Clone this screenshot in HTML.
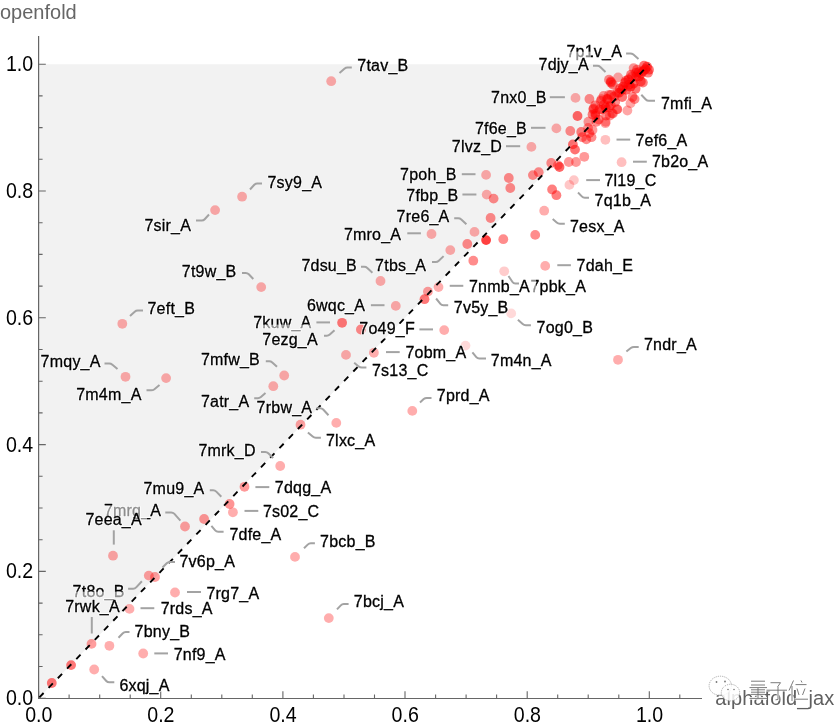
<!DOCTYPE html><html><head><meta charset="utf-8"><style>html,body{margin:0;padding:0;background:#fff;width:834px;height:726px;overflow:hidden}svg{display:block;will-change:transform}text{font-family:"Liberation Sans",sans-serif}</style></head><body>
<svg width="834" height="726" viewBox="0 0 834 726">
<path d="M38.6 698.2L38.6 64.2L649.3 64.2Z" fill="#f2f2f2"/>
<path d="M38.6 36V698.5H702" fill="none" stroke="#666" stroke-width="1.2"/>
<path d="M38.6 698.5V691.3M69.1 698.5V694.5M99.7 698.5V694.5M130.2 698.5V694.5M160.7 698.5V691.3M191.3 698.5V694.5M221.8 698.5V694.5M252.3 698.5V694.5M282.9 698.5V691.3M313.4 698.5V694.5M344.0 698.5V694.5M374.5 698.5V694.5M405.0 698.5V691.3M435.6 698.5V694.5M466.1 698.5V694.5M496.6 698.5V694.5M527.2 698.5V691.3M557.7 698.5V694.5M588.2 698.5V694.5M618.8 698.5V694.5M649.3 698.5V691.3M679.8 698.5V694.5M38.6 698.2H45.8M38.6 666.5H42.6M38.6 634.8H42.6M38.6 603.1H42.6M38.6 571.4H45.8M38.6 539.7H42.6M38.6 508.0H42.6M38.6 476.3H42.6M38.6 444.6H45.8M38.6 412.9H42.6M38.6 381.2H42.6M38.6 349.5H42.6M38.6 317.8H45.8M38.6 286.1H42.6M38.6 254.4H42.6M38.6 222.7H42.6M38.6 191.0H45.8M38.6 159.3H42.6M38.6 127.6H42.6M38.6 95.9H42.6M38.6 64.2H45.8" fill="none" stroke="#666" stroke-width="1.1"/>
<text transform="translate(38.8 721.6) scale(0.875 1)" font-size="22.4" text-anchor="middle">0.0</text>
<text transform="translate(33.2 705.1) scale(0.875 1)" font-size="22.4" text-anchor="end">0.0</text>
<text transform="translate(160.9 721.6) scale(0.875 1)" font-size="22.4" text-anchor="middle">0.2</text>
<text transform="translate(33.2 578.3) scale(0.875 1)" font-size="22.4" text-anchor="end">0.2</text>
<text transform="translate(283.1 721.6) scale(0.875 1)" font-size="22.4" text-anchor="middle">0.4</text>
<text transform="translate(33.2 451.5) scale(0.875 1)" font-size="22.4" text-anchor="end">0.4</text>
<text transform="translate(405.2 721.6) scale(0.875 1)" font-size="22.4" text-anchor="middle">0.6</text>
<text transform="translate(33.2 324.7) scale(0.875 1)" font-size="22.4" text-anchor="end">0.6</text>
<text transform="translate(527.4 721.6) scale(0.875 1)" font-size="22.4" text-anchor="middle">0.8</text>
<text transform="translate(33.2 197.9) scale(0.875 1)" font-size="22.4" text-anchor="end">0.8</text>
<text transform="translate(649.5 721.6) scale(0.875 1)" font-size="22.4" text-anchor="middle">1.0</text>
<text transform="translate(33.2 71.1) scale(0.875 1)" font-size="22.4" text-anchor="end">1.0</text>
<text x="0" y="18.6" font-size="20" fill="#666">openfold</text>
<g>
<circle cx="331.2" cy="81.2" r="4.9" fill="#ff0000" fill-opacity="0.32"/>
<circle cx="242.1" cy="196.7" r="4.9" fill="#ff0000" fill-opacity="0.32"/>
<circle cx="215.1" cy="210.1" r="4.9" fill="#ff0000" fill-opacity="0.32"/>
<circle cx="122.3" cy="323.8" r="4.9" fill="#ff0000" fill-opacity="0.32"/>
<circle cx="125.5" cy="376.8" r="4.9" fill="#ff0000" fill-opacity="0.32"/>
<circle cx="166.1" cy="378.1" r="4.9" fill="#ff0000" fill-opacity="0.32"/>
<circle cx="261.2" cy="287.1" r="4.9" fill="#ff0000" fill-opacity="0.32"/>
<circle cx="380.5" cy="281.0" r="4.9" fill="#ff0000" fill-opacity="0.32"/>
<circle cx="395.8" cy="305.9" r="4.9" fill="#ff0000" fill-opacity="0.32"/>
<circle cx="342.1" cy="322.8" r="4.9" fill="#ff0000" fill-opacity="0.53"/>
<circle cx="360.9" cy="329.5" r="4.9" fill="#ff0000" fill-opacity="0.45"/>
<circle cx="346.0" cy="354.9" r="4.9" fill="#ff0000" fill-opacity="0.32"/>
<circle cx="373.9" cy="352.8" r="4.9" fill="#ff0000" fill-opacity="0.32"/>
<circle cx="284.2" cy="375.5" r="4.9" fill="#ff0000" fill-opacity="0.32"/>
<circle cx="273.3" cy="386.2" r="4.9" fill="#ff0000" fill-opacity="0.32"/>
<circle cx="300.5" cy="424.7" r="4.9" fill="#ff0000" fill-opacity="0.36"/>
<circle cx="336.3" cy="422.9" r="4.9" fill="#ff0000" fill-opacity="0.32"/>
<circle cx="412.3" cy="410.9" r="4.9" fill="#ff0000" fill-opacity="0.32"/>
<circle cx="280.2" cy="466.0" r="4.9" fill="#ff0000" fill-opacity="0.32"/>
<circle cx="244.5" cy="486.8" r="4.9" fill="#ff0000" fill-opacity="0.4"/>
<circle cx="229.6" cy="504.0" r="4.9" fill="#ff0000" fill-opacity="0.42"/>
<circle cx="232.9" cy="512.3" r="4.9" fill="#ff0000" fill-opacity="0.32"/>
<circle cx="204.1" cy="519.0" r="4.9" fill="#ff0000" fill-opacity="0.4"/>
<circle cx="185.0" cy="526.5" r="4.9" fill="#ff0000" fill-opacity="0.37"/>
<circle cx="113.0" cy="555.7" r="4.9" fill="#ff0000" fill-opacity="0.34"/>
<circle cx="295.0" cy="556.9" r="4.9" fill="#ff0000" fill-opacity="0.32"/>
<circle cx="148.8" cy="575.6" r="4.9" fill="#ff0000" fill-opacity="0.37"/>
<circle cx="155.0" cy="577.0" r="4.9" fill="#ff0000" fill-opacity="0.37"/>
<circle cx="175.0" cy="592.5" r="4.9" fill="#ff0000" fill-opacity="0.32"/>
<circle cx="129.5" cy="608.9" r="4.9" fill="#ff0000" fill-opacity="0.32"/>
<circle cx="328.8" cy="618.1" r="4.9" fill="#ff0000" fill-opacity="0.32"/>
<circle cx="91.5" cy="643.9" r="4.9" fill="#ff0000" fill-opacity="0.38"/>
<circle cx="109.4" cy="645.8" r="4.9" fill="#ff0000" fill-opacity="0.32"/>
<circle cx="143.2" cy="653.5" r="4.9" fill="#ff0000" fill-opacity="0.32"/>
<circle cx="94.2" cy="669.5" r="4.9" fill="#ff0000" fill-opacity="0.32"/>
<circle cx="71.1" cy="665.1" r="4.9" fill="#ff0000" fill-opacity="0.53"/>
<circle cx="51.8" cy="683.0" r="4.9" fill="#ff0000" fill-opacity="0.53"/>
<circle cx="444.2" cy="330.1" r="4.9" fill="#ff0000" fill-opacity="0.32"/>
<circle cx="465.5" cy="345.6" r="4.9" fill="#ff0000" fill-opacity="0.15"/>
<circle cx="511.2" cy="313.4" r="4.9" fill="#ff0000" fill-opacity="0.15"/>
<circle cx="618.0" cy="359.8" r="4.9" fill="#ff0000" fill-opacity="0.32"/>
<circle cx="504.2" cy="271.3" r="4.9" fill="#ff0000" fill-opacity="0.2"/>
<circle cx="545.2" cy="265.9" r="4.9" fill="#ff0000" fill-opacity="0.32"/>
<circle cx="544.2" cy="210.7" r="4.9" fill="#ff0000" fill-opacity="0.32"/>
<circle cx="438.5" cy="287.1" r="4.9" fill="#ff0000" fill-opacity="0.32"/>
<circle cx="427.9" cy="291.6" r="4.9" fill="#ff0000" fill-opacity="0.38"/>
<circle cx="424.5" cy="299.2" r="4.9" fill="#ff0000" fill-opacity="0.53"/>
<circle cx="486.1" cy="174.9" r="4.9" fill="#ff0000" fill-opacity="0.32"/>
<circle cx="508.8" cy="178.0" r="4.9" fill="#ff0000" fill-opacity="0.45"/>
<circle cx="510.3" cy="188.0" r="4.9" fill="#ff0000" fill-opacity="0.45"/>
<circle cx="486.7" cy="194.6" r="4.9" fill="#ff0000" fill-opacity="0.32"/>
<circle cx="493.6" cy="198.6" r="4.9" fill="#ff0000" fill-opacity="0.45"/>
<circle cx="490.6" cy="218.0" r="4.9" fill="#ff0000" fill-opacity="0.45"/>
<circle cx="474.5" cy="231.9" r="4.9" fill="#ff0000" fill-opacity="0.32"/>
<circle cx="431.5" cy="234.0" r="4.9" fill="#ff0000" fill-opacity="0.32"/>
<circle cx="467.3" cy="244.0" r="4.9" fill="#ff0000" fill-opacity="0.45"/>
<circle cx="486.1" cy="240.1" r="4.9" fill="#ff0000" fill-opacity="0.75"/>
<circle cx="450.3" cy="250.1" r="4.9" fill="#ff0000" fill-opacity="0.32"/>
<circle cx="503.3" cy="239.2" r="4.9" fill="#ff0000" fill-opacity="0.45"/>
<circle cx="535.2" cy="234.9" r="4.9" fill="#ff0000" fill-opacity="0.45"/>
<circle cx="473.3" cy="260.7" r="4.9" fill="#ff0000" fill-opacity="0.45"/>
<circle cx="531.4" cy="146.9" r="4.9" fill="#ff0000" fill-opacity="0.32"/>
<circle cx="556.4" cy="128.4" r="4.9" fill="#ff0000" fill-opacity="0.32"/>
<circle cx="575.5" cy="97.9" r="4.9" fill="#ff0000" fill-opacity="0.32"/>
<circle cx="589.4" cy="99.0" r="4.9" fill="#ff0000" fill-opacity="0.45"/>
<circle cx="577.5" cy="116.0" r="4.9" fill="#ff0000" fill-opacity="0.6"/>
<circle cx="570.3" cy="131.0" r="4.9" fill="#ff0000" fill-opacity="0.45"/>
<circle cx="581.2" cy="132.0" r="4.9" fill="#ff0000" fill-opacity="0.5"/>
<circle cx="589.4" cy="133.1" r="4.9" fill="#ff0000" fill-opacity="0.45"/>
<circle cx="591.5" cy="137.2" r="4.9" fill="#ff0000" fill-opacity="0.45"/>
<circle cx="586.3" cy="139.3" r="4.9" fill="#ff0000" fill-opacity="0.45"/>
<circle cx="582.2" cy="137.2" r="4.9" fill="#ff0000" fill-opacity="0.45"/>
<circle cx="588.4" cy="121.7" r="4.9" fill="#ff0000" fill-opacity="0.4"/>
<circle cx="592.5" cy="130.0" r="4.9" fill="#ff0000" fill-opacity="0.4"/>
<circle cx="605.4" cy="139.8" r="4.9" fill="#ff0000" fill-opacity="0.25"/>
<circle cx="605.4" cy="123.2" r="4.9" fill="#ff0000" fill-opacity="0.35"/>
<circle cx="572.9" cy="144.4" r="4.9" fill="#ff0000" fill-opacity="0.55"/>
<circle cx="575.0" cy="149.6" r="4.9" fill="#ff0000" fill-opacity="0.55"/>
<circle cx="584.3" cy="156.8" r="4.9" fill="#ff0000" fill-opacity="0.4"/>
<circle cx="568.8" cy="162.0" r="4.9" fill="#ff0000" fill-opacity="0.4"/>
<circle cx="576.0" cy="162.0" r="4.9" fill="#ff0000" fill-opacity="0.4"/>
<circle cx="559.5" cy="167.0" r="4.9" fill="#ff0000" fill-opacity="0.6"/>
<circle cx="551.2" cy="163.0" r="4.9" fill="#ff0000" fill-opacity="0.45"/>
<circle cx="557.9" cy="165.1" r="4.9" fill="#ff0000" fill-opacity="0.4"/>
<circle cx="538.7" cy="172.2" r="4.9" fill="#ff0000" fill-opacity="0.45"/>
<circle cx="532.9" cy="175.1" r="4.9" fill="#ff0000" fill-opacity="0.45"/>
<circle cx="552.1" cy="189.5" r="4.9" fill="#ff0000" fill-opacity="0.5"/>
<circle cx="556.4" cy="195.2" r="4.9" fill="#ff0000" fill-opacity="0.5"/>
<circle cx="573.9" cy="180.1" r="4.9" fill="#ff0000" fill-opacity="0.22"/>
<circle cx="569.4" cy="184.9" r="4.9" fill="#ff0000" fill-opacity="0.22"/>
<circle cx="621.6" cy="162.2" r="4.9" fill="#ff0000" fill-opacity="0.25"/>
<circle cx="645.4" cy="69.1" r="4.9" fill="#ff0000" fill-opacity="0.65"/>
<circle cx="647.0" cy="66.7" r="4.9" fill="#ff0000" fill-opacity="0.6"/>
<circle cx="643.0" cy="71.2" r="4.9" fill="#ff0000" fill-opacity="0.6"/>
<circle cx="649.0" cy="69.7" r="4.9" fill="#ff0000" fill-opacity="0.55"/>
<circle cx="644.0" cy="65.7" r="4.9" fill="#ff0000" fill-opacity="0.55"/>
<circle cx="641.0" cy="73.7" r="4.9" fill="#ff0000" fill-opacity="0.55"/>
<circle cx="648.0" cy="72.7" r="4.9" fill="#ff0000" fill-opacity="0.5"/>
<circle cx="633.6" cy="68.1" r="4.9" fill="#ff0000" fill-opacity="0.4"/>
<circle cx="637.0" cy="69.7" r="4.9" fill="#ff0000" fill-opacity="0.45"/>
<circle cx="638.7" cy="72.2" r="4.9" fill="#ff0000" fill-opacity="0.55"/>
<circle cx="639.0" cy="76.7" r="4.9" fill="#ff0000" fill-opacity="0.55"/>
<circle cx="628.4" cy="79.5" r="4.9" fill="#ff0000" fill-opacity="0.6"/>
<circle cx="633.6" cy="83.6" r="4.9" fill="#ff0000" fill-opacity="0.6"/>
<circle cx="640.8" cy="81.5" r="4.9" fill="#ff0000" fill-opacity="0.55"/>
<circle cx="642.9" cy="82.6" r="4.9" fill="#ff0000" fill-opacity="0.5"/>
<circle cx="636.0" cy="76.7" r="4.9" fill="#ff0000" fill-opacity="0.55"/>
<circle cx="631.0" cy="74.7" r="4.9" fill="#ff0000" fill-opacity="0.5"/>
<circle cx="635.6" cy="88.8" r="4.9" fill="#ff0000" fill-opacity="0.55"/>
<circle cx="630.5" cy="86.7" r="4.9" fill="#ff0000" fill-opacity="0.6"/>
<circle cx="626.3" cy="89.8" r="4.9" fill="#ff0000" fill-opacity="0.6"/>
<circle cx="619.1" cy="92.9" r="4.9" fill="#ff0000" fill-opacity="0.55"/>
<circle cx="622.2" cy="97.0" r="4.9" fill="#ff0000" fill-opacity="0.55"/>
<circle cx="632.5" cy="97.0" r="4.9" fill="#ff0000" fill-opacity="0.45"/>
<circle cx="634.6" cy="99.1" r="4.9" fill="#ff0000" fill-opacity="0.45"/>
<circle cx="630.5" cy="103.2" r="4.9" fill="#ff0000" fill-opacity="0.35"/>
<circle cx="627.4" cy="110.5" r="4.9" fill="#ff0000" fill-opacity="0.35"/>
<circle cx="617.0" cy="109.4" r="4.9" fill="#ff0000" fill-opacity="0.4"/>
<circle cx="612.9" cy="113.6" r="4.9" fill="#ff0000" fill-opacity="0.4"/>
<circle cx="610.8" cy="105.3" r="4.9" fill="#ff0000" fill-opacity="0.5"/>
<circle cx="607.7" cy="99.1" r="4.9" fill="#ff0000" fill-opacity="0.5"/>
<circle cx="601.5" cy="99.1" r="4.9" fill="#ff0000" fill-opacity="0.4"/>
<circle cx="595.3" cy="105.3" r="4.9" fill="#ff0000" fill-opacity="0.45"/>
<circle cx="593.3" cy="109.4" r="4.9" fill="#ff0000" fill-opacity="0.45"/>
<circle cx="595.3" cy="113.6" r="4.9" fill="#ff0000" fill-opacity="0.45"/>
<circle cx="599.5" cy="109.4" r="4.9" fill="#ff0000" fill-opacity="0.5"/>
<circle cx="605.7" cy="107.4" r="4.9" fill="#ff0000" fill-opacity="0.55"/>
<circle cx="608.8" cy="95.0" r="4.9" fill="#ff0000" fill-opacity="0.35"/>
<circle cx="603.6" cy="96.0" r="4.9" fill="#ff0000" fill-opacity="0.4"/>
<circle cx="610.8" cy="81.5" r="4.9" fill="#ff0000" fill-opacity="0.5"/>
<circle cx="612.9" cy="84.6" r="4.9" fill="#ff0000" fill-opacity="0.5"/>
<circle cx="609.0" cy="79.7" r="4.9" fill="#ff0000" fill-opacity="0.45"/>
<circle cx="618.1" cy="77.4" r="4.9" fill="#ff0000" fill-opacity="0.35"/>
<circle cx="605.7" cy="121.8" r="4.9" fill="#ff0000" fill-opacity="0.35"/>
<circle cx="596.4" cy="121.8" r="4.9" fill="#ff0000" fill-opacity="0.45"/>
<circle cx="609.8" cy="115.6" r="4.9" fill="#ff0000" fill-opacity="0.4"/>
<circle cx="593.6" cy="108.3" r="4.9" fill="#ff0000" fill-opacity="0.45"/>
<circle cx="595.6" cy="115.5" r="4.9" fill="#ff0000" fill-opacity="0.5"/>
<circle cx="598.7" cy="119.6" r="4.9" fill="#ff0000" fill-opacity="0.45"/>
<circle cx="592.5" cy="114.5" r="4.9" fill="#ff0000" fill-opacity="0.5"/>
<circle cx="600.8" cy="101.0" r="4.9" fill="#ff0000" fill-opacity="0.45"/>
<circle cx="607.0" cy="99.0" r="4.9" fill="#ff0000" fill-opacity="0.5"/>
<circle cx="602.9" cy="109.3" r="4.9" fill="#ff0000" fill-opacity="0.5"/>
<circle cx="609.0" cy="107.2" r="4.9" fill="#ff0000" fill-opacity="0.5"/>
<circle cx="615.2" cy="102.1" r="4.9" fill="#ff0000" fill-opacity="0.45"/>
<circle cx="612.1" cy="113.4" r="4.9" fill="#ff0000" fill-opacity="0.4"/>
<circle cx="617.3" cy="109.3" r="4.9" fill="#ff0000" fill-opacity="0.4"/>
<circle cx="606.0" cy="115.5" r="4.9" fill="#ff0000" fill-opacity="0.45"/>
<circle cx="611.1" cy="94.8" r="4.9" fill="#ff0000" fill-opacity="0.5"/>
<circle cx="617.3" cy="92.8" r="4.9" fill="#ff0000" fill-opacity="0.5"/>
<circle cx="623.0" cy="86.7" r="4.9" fill="#ff0000" fill-opacity="0.55"/>
<circle cx="625.0" cy="82.7" r="4.9" fill="#ff0000" fill-opacity="0.55"/>
<circle cx="620.0" cy="88.7" r="4.9" fill="#ff0000" fill-opacity="0.55"/>
<circle cx="614.0" cy="96.7" r="4.9" fill="#ff0000" fill-opacity="0.5"/>
<circle cx="604.0" cy="104.7" r="4.9" fill="#ff0000" fill-opacity="0.5"/>
<circle cx="588.1" cy="128.0" r="4.9" fill="#ff0000" fill-opacity="0.4"/>
<circle cx="611.0" cy="82.7" r="4.9" fill="#ff0000" fill-opacity="0.5"/>
<circle cx="626.0" cy="80.7" r="4.9" fill="#ff0000" fill-opacity="0.5"/>
<circle cx="629.0" cy="84.7" r="4.9" fill="#ff0000" fill-opacity="0.5"/>
<circle cx="622.0" cy="89.7" r="4.9" fill="#ff0000" fill-opacity="0.5"/>
<circle cx="632.0" cy="76.7" r="4.9" fill="#ff0000" fill-opacity="0.45"/>
<circle cx="636.0" cy="72.7" r="4.9" fill="#ff0000" fill-opacity="0.45"/>
</g>
<mask id="lm" maskUnits="userSpaceOnUse" x="0" y="0" width="834" height="726"><rect x="0" y="0" width="834" height="726" fill="#fff"/><rect x="375" y="324" width="40" height="14.3" fill="#000"/></mask>
<line x1="38.6" y1="698.2" x2="649.3" y2="64.2" stroke="#000" stroke-width="1.9" stroke-dasharray="6.1 7.21" stroke-dashoffset="-1.1" mask="url(#lm)"/>
<g fill="none" stroke="#a3a3a3" stroke-width="2" stroke-linecap="butt">
<path d="M339.5 73.0L344.4 68.8Q345.8 67.6 347.6 67.6L351.8 67.6"/>
<path d="M250.0 189.5L254.3 184.8Q255.5 183.5 257.3 183.5L262.0 183.5"/>
<path d="M209.0 214.5L204.7 219.2Q203.5 220.5 201.7 220.5L196.0 220.5"/>
<path d="M130.0 316.0L134.7 311.7Q136.0 310.5 137.8 310.5L143.0 310.5"/>
<path d="M253.3 279.0L248.8 274.3Q247.5 273.0 245.7 273.0L242.0 273.0"/>
<path d="M117.5 369.0L112.4 364.7Q111.0 363.5 109.2 363.5L104.5 363.5"/>
<path d="M159.5 385.0L154.4 389.2Q153.0 390.3 151.2 390.3L146.5 390.3"/>
<path d="M372.4 272.7L367.3 268.0Q366.0 266.8 364.2 266.8L361.0 266.8"/>
<path d="M443.6 256.1L438.8 260.7Q437.5 262.0 435.7 262.0L432.0 262.0"/>
<path d="M370.9 305.2L384.5 305.2"/>
<path d="M316.4 322.4L330.0 322.4"/>
<path d="M334.5 330.3L329.8 334.6Q328.5 335.8 326.7 335.8L324.0 335.8"/>
<path d="M277.0 366.7L272.3 362.4Q271.0 361.2 269.2 361.2L265.8 361.2"/>
<path d="M265.5 393.0L260.9 397.0Q259.5 398.2 257.7 398.2L254.2 398.2"/>
<path d="M328.5 415.2L323.2 409.5Q322.0 408.2 320.2 408.2L316.4 408.2"/>
<path d="M307.9 432.4L312.7 436.6Q314.0 437.8 315.8 437.8L320.9 437.8"/>
<path d="M354.2 362.7L358.6 366.4Q360.0 367.5 361.8 367.5L366.4 367.5"/>
<path d="M386.0 352.1L399.7 352.1"/>
<path d="M419.4 329.4L433.0 329.4"/>
<path d="M461.8 174.2L475.5 174.2"/>
<path d="M462.4 194.5L476.4 194.5"/>
<path d="M466.4 224.2L461.3 219.4Q460.0 218.2 458.2 218.2L454.2 218.2"/>
<path d="M407.3 233.3L420.9 233.3"/>
<path d="M449.7 285.8L463.3 285.8"/>
<path d="M508.5 276.0L512.5 282.0Q513.5 283.5 515.3 283.5L519.0 283.5"/>
<path d="M436.1 298.5L440.4 303.8Q441.5 305.2 443.3 305.2L448.2 305.2"/>
<path d="M517.9 319.7L522.7 324.0Q524.0 325.2 525.8 325.2L530.9 325.2"/>
<path d="M472.4 352.4L476.3 357.1Q477.5 358.5 479.3 358.5L486.0 358.5"/>
<path d="M552.7 219.1L556.7 222.6Q558.0 223.8 559.8 223.8L564.8 223.8"/>
<path d="M557.3 265.2L570.9 265.2"/>
<path d="M586.2 180.1L600.0 180.1"/>
<path d="M578.0 192.5L581.8 196.4Q583.0 197.7 584.8 197.7L589.0 197.7"/>
<path d="M638.5 58.9L633.4 54.6Q632.0 53.4 630.2 53.4L626.1 53.4"/>
<path d="M605.5 71.9L600.3 67.0Q599.0 65.8 597.2 65.8L593.0 65.8"/>
<path d="M641.3 94.7L645.8 99.5Q647.0 100.8 648.8 100.8L655.0 100.8"/>
<path d="M616.5 139.6L630.2 139.6"/>
<path d="M633.0 161.7L646.8 161.7"/>
<path d="M549.8 97.2L564.9 97.2"/>
<path d="M531.0 127.8L545.5 127.8"/>
<path d="M506.0 146.2L520.2 146.2"/>
<path d="M626.4 351.5L630.8 348.0Q632.2 346.9 634.0 346.9L638.7 346.9"/>
<path d="M420.0 402.5L423.7 399.1Q425.0 397.9 426.8 397.9L431.5 397.9"/>
<path d="M273.2 458.0L268.3 453.3Q267.0 452.0 265.2 452.0L261.0 452.0"/>
<path d="M255.4 487.1L269.3 487.1"/>
<path d="M221.3 496.7L216.3 491.6Q215.0 490.3 213.2 490.3L209.8 490.3"/>
<path d="M244.5 510.9L258.3 510.9"/>
<path d="M211.4 525.8L215.2 530.3Q216.4 531.7 218.2 531.7L223.6 531.7"/>
<path d="M304.0 548.3L307.7 544.6Q309.0 543.3 310.8 543.3L314.9 543.3"/>
<path d="M337.0 609.4L340.8 605.4Q342.0 604.1 343.8 604.1L348.6 604.1"/>
<path d="M113.8 530.3L113.8 544.6"/>
<path d="M180.4 520.6L174.2 513.7Q173.0 512.4 171.2 512.4L165.3 512.4"/>
<path d="M162.5 567.5L166.7 563.3Q168.0 562.0 169.8 562.0L175.0 562.0"/>
<path d="M141.9 581.2L136.2 587.4Q135.0 588.7 133.2 588.7L128.1 588.7"/>
<path d="M187.0 592.0L201.0 592.0"/>
<path d="M91.8 617.0L91.8 633.5"/>
<path d="M140.5 608.2L154.3 608.2"/>
<path d="M118.5 637.7L122.8 633.3Q124.0 632.0 125.8 632.0L129.5 632.0"/>
<path d="M154.3 653.4L168.0 653.4"/>
<path d="M102.0 676.2L106.3 681.0Q107.5 682.3 109.3 682.3L114.3 682.3"/>
</g>
<defs><clipPath id="g7p1v_A"><rect x="0" y="51.7" width="591" height="674.3"/></clipPath><clipPath id="c7p1v_A"><rect x="0" y="0" width="834" height="51.7"/><rect x="591" y="0" width="243" height="726"/></clipPath><clipPath id="g7mrg_A"><rect x="0" y="505.5" width="147" height="220.5"/></clipPath><clipPath id="c7mrg_A"><rect x="0" y="0" width="834" height="505.5"/><rect x="147" y="0" width="687" height="726"/></clipPath><clipPath id="g7t8o_B"><rect x="0" y="591.8" width="130" height="134.20000000000005"/></clipPath><clipPath id="c7t8o_B"><rect x="0" y="0" width="834" height="591.8"/><rect x="130" y="0" width="704" height="726"/></clipPath><clipPath id="g7kuw_A"><rect x="261.5" y="324.8" width="572.5" height="401.2"/></clipPath><clipPath id="c7kuw_A"><rect x="0" y="0" width="834" height="324.8"/><rect x="0" y="0" width="261.5" height="726"/></clipPath><clipPath id="g7pbk_A"><rect x="0" y="272.4" width="536" height="453.6"/></clipPath><clipPath id="c7pbk_A"><rect x="0" y="0" width="834" height="272.4"/><rect x="536" y="0" width="298" height="726"/></clipPath></defs>
<g font-size="16" fill="none" letter-spacing="0.22" stroke="#fff" stroke-width="2.0" stroke-opacity="0.8" stroke-linejoin="round">
<text x="357.3" y="71.1">7tav_B</text>
<text x="566.5" y="57.4">7p1v_A</text>
<text x="538.6" y="70.3">7djy_A</text>
<text x="491.1" y="103.3">7nx0_B</text>
<text x="661.0" y="109.2">7mfi_A</text>
<text x="474.9" y="133.9">7f6e_B</text>
<text x="635.4" y="145.9">7ef6_A</text>
<text x="451.8" y="151.9">7lvz_D</text>
<text x="651.9" y="167.1">7b2o_A</text>
<text x="267.5" y="187.8">7sy9_A</text>
<text x="400.1" y="180.1">7poh_B</text>
<text x="604.4" y="186.3">7l19_C</text>
<text x="406.3" y="201.2">7fbp_B</text>
<text x="594.6" y="205.5">7q1b_A</text>
<text x="144.4" y="231.4">7sir_A</text>
<text x="396.6" y="222.0">7re6_A</text>
<text x="570.0" y="231.7">7esx_A</text>
<text x="343.9" y="240.2">7mro_A</text>
<text x="181.8" y="277.2">7t9w_B</text>
<text x="301.4" y="271.0">7dsu_B</text>
<text x="375.1" y="270.7">7tbs_A</text>
<text x="576.6" y="271.0">7dah_E</text>
<text x="469.0" y="291.6">7nmb_A</text>
<text x="530.5" y="291.6">7pbk_A</text>
<text x="147.5" y="313.9">7eft_B</text>
<text x="306.9" y="311.0">6wqc_A</text>
<text x="453.8" y="312.8">7v5y_B</text>
<text x="253.2" y="328.0">7kuw_A</text>
<text x="359.3" y="334.0">7o49_F</text>
<text x="536.6" y="332.7">7og0_B</text>
<text x="262.3" y="344.7">7ezg_A</text>
<text x="644.0" y="349.7">7ndr_A</text>
<text x="40.6" y="366.9">7mqy_A</text>
<text x="200.9" y="365.2">7mfw_B</text>
<text x="405.4" y="357.8">7obm_A</text>
<text x="490.8" y="366.3">7m4n_A</text>
<text x="372.0" y="375.9">7s13_C</text>
<text x="76.2" y="399.6">7m4m_A</text>
<text x="436.8" y="401.3">7prd_A</text>
<text x="200.9" y="407.4">7atr_A</text>
<text x="256.6" y="412.8">7rbw_A</text>
<text x="326.0" y="446.0">7lxc_A</text>
<text x="198.4" y="456.2">7mrk_D</text>
<text x="143.5" y="494.2">7mu9_A</text>
<text x="274.8" y="493.4">7dqg_A</text>
<text x="103.9" y="516.2">7mrg_A</text>
<text x="262.9" y="517.2">7s02_C</text>
<text x="85.4" y="524.7">7eea_A</text>
<text x="229.4" y="539.9">7dfe_A</text>
<text x="320.1" y="547.3">7bcb_B</text>
<text x="179.5" y="566.7">7v6p_A</text>
<text x="72.6" y="597.1">7t8o_B</text>
<text x="206.4" y="598.7">7rg7_A</text>
<text x="65.2" y="611.7">7rwk_A</text>
<text x="160.7" y="613.6">7rds_A</text>
<text x="353.8" y="606.6">7bcj_A</text>
<text x="134.6" y="637.0">7bny_B</text>
<text x="173.7" y="659.8">7nf9_A</text>
<text x="119.4" y="690.7">6xqj_A</text>
</g>
<g font-size="16" fill="#000" letter-spacing="0.22" stroke="#000" stroke-width="0.3">
<text x="357.3" y="71.1">7tav_B</text>
<text x="566.5" y="57.4" fill="#8d8d8d" stroke="#8d8d8d" clip-path="url(#g7p1v_A)">7p1v_A</text>
<text x="566.5" y="57.4" clip-path="url(#c7p1v_A)">7p1v_A</text>
<text x="538.6" y="70.3">7djy_A</text>
<text x="491.1" y="103.3">7nx0_B</text>
<text x="661.0" y="109.2">7mfi_A</text>
<text x="474.9" y="133.9">7f6e_B</text>
<text x="635.4" y="145.9">7ef6_A</text>
<text x="451.8" y="151.9">7lvz_D</text>
<text x="651.9" y="167.1">7b2o_A</text>
<text x="267.5" y="187.8">7sy9_A</text>
<text x="400.1" y="180.1">7poh_B</text>
<text x="604.4" y="186.3">7l19_C</text>
<text x="406.3" y="201.2">7fbp_B</text>
<text x="594.6" y="205.5">7q1b_A</text>
<text x="144.4" y="231.4">7sir_A</text>
<text x="396.6" y="222.0">7re6_A</text>
<text x="570.0" y="231.7">7esx_A</text>
<text x="343.9" y="240.2">7mro_A</text>
<text x="181.8" y="277.2">7t9w_B</text>
<text x="301.4" y="271.0">7dsu_B</text>
<text x="375.1" y="270.7">7tbs_A</text>
<text x="576.6" y="271.0">7dah_E</text>
<text x="469.0" y="291.6">7nmb_A</text>
<text x="530.5" y="291.6" fill="#8d8d8d" stroke="#8d8d8d" clip-path="url(#g7pbk_A)">7pbk_A</text>
<text x="530.5" y="291.6" clip-path="url(#c7pbk_A)">7pbk_A</text>
<text x="147.5" y="313.9">7eft_B</text>
<text x="306.9" y="311.0">6wqc_A</text>
<text x="453.8" y="312.8">7v5y_B</text>
<text x="253.2" y="328.0" fill="#8d8d8d" stroke="#8d8d8d" clip-path="url(#g7kuw_A)">7kuw_A</text>
<text x="253.2" y="328.0" clip-path="url(#c7kuw_A)">7kuw_A</text>
<text x="359.3" y="334.0">7o49_F</text>
<text x="536.6" y="332.7">7og0_B</text>
<text x="262.3" y="344.7">7ezg_A</text>
<text x="644.0" y="349.7">7ndr_A</text>
<text x="40.6" y="366.9">7mqy_A</text>
<text x="200.9" y="365.2">7mfw_B</text>
<text x="405.4" y="357.8">7obm_A</text>
<text x="490.8" y="366.3">7m4n_A</text>
<text x="372.0" y="375.9">7s13_C</text>
<text x="76.2" y="399.6">7m4m_A</text>
<text x="436.8" y="401.3">7prd_A</text>
<text x="200.9" y="407.4">7atr_A</text>
<text x="256.6" y="412.8">7rbw_A</text>
<text x="326.0" y="446.0">7lxc_A</text>
<text x="198.4" y="456.2">7mrk_D</text>
<text x="143.5" y="494.2">7mu9_A</text>
<text x="274.8" y="493.4">7dqg_A</text>
<text x="103.9" y="516.2" fill="#8d8d8d" stroke="#8d8d8d" clip-path="url(#g7mrg_A)">7mrg_A</text>
<text x="103.9" y="516.2" clip-path="url(#c7mrg_A)">7mrg_A</text>
<text x="262.9" y="517.2">7s02_C</text>
<text x="85.4" y="524.7">7eea_A</text>
<text x="229.4" y="539.9">7dfe_A</text>
<text x="320.1" y="547.3">7bcb_B</text>
<text x="179.5" y="566.7">7v6p_A</text>
<text x="72.6" y="597.1" fill="#8d8d8d" stroke="#8d8d8d" clip-path="url(#g7t8o_B)">7t8o_B</text>
<text x="72.6" y="597.1" clip-path="url(#c7t8o_B)">7t8o_B</text>
<text x="206.4" y="598.7">7rg7_A</text>
<text x="65.2" y="611.7">7rwk_A</text>
<text x="160.7" y="613.6">7rds_A</text>
<text x="353.8" y="606.6">7bcj_A</text>
<text x="134.6" y="637.0">7bny_B</text>
<text x="173.7" y="659.8">7nf9_A</text>
<text x="119.4" y="690.7">6xqj_A</text>
</g>
<text x="715.2" y="704.9" font-size="20" fill="#606060" letter-spacing="0.1">alphafold_jax</text>
<g fill="none" stroke-linecap="butt"><path d="M751 681.2H765M751 685H765M749.5 687.6H767M751 689.8H765M751 692.2H765M751 694.4H765M749.5 698.4H767M758 688V698M770.5 682.7H780.5L777.5 687M766.5 690.2H787M778 687V699.5L775.5 699.8M793.5 680.5L789 690.5M792 686V701M801 680.5L802 682.5M795.5 684.6H806.5M797 688.5L799 695M805 688.5L802.5 695M794.5 699.2H808" stroke="#fff" stroke-width="2.6" stroke-opacity="0.9"/><path d="M751 681.2H765M751 685H765M749.5 687.6H767M751 689.8H765M751 692.2H765M751 694.4H765M749.5 698.4H767M758 688V698M770.5 682.7H780.5L777.5 687M766.5 690.2H787M778 687V699.5L775.5 699.8M793.5 680.5L789 690.5M792 686V701M801 680.5L802 682.5M795.5 684.6H806.5M797 688.5L799 695M805 688.5L802.5 695M794.5 699.2H808" stroke="#6e6e6e" stroke-width="1.0" stroke-opacity="0.9"/></g>
<g stroke="#8a8a8a" stroke-width="0.7" stroke-dasharray="1.2 1" fill="#fff" fill-opacity="0.85"><ellipse cx="720.3" cy="685.8" rx="11.2" ry="9.6"/><ellipse cx="730.5" cy="692.6" rx="9.2" ry="8.3"/></g>
<g fill="#777"><circle cx="716.5" cy="682" r="0.9"/><circle cx="725" cy="681.5" r="0.9"/><circle cx="728" cy="689.5" r="0.8"/><circle cx="734" cy="689.5" r="0.8"/></g>
</svg></body></html>
